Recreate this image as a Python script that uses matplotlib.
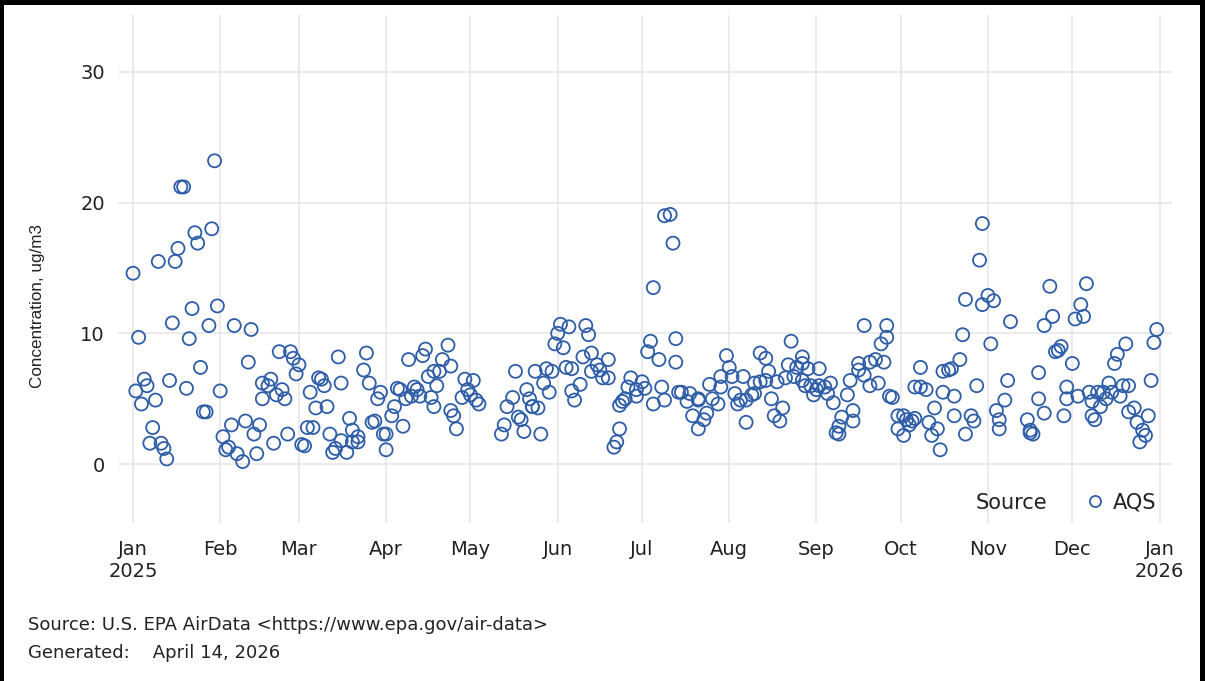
import numpy as np
import matplotlib
matplotlib.use("Agg")
import matplotlib.pyplot as plt
import matplotlib.dates as mdates
from matplotlib.lines import Line2D
from matplotlib.patches import Rectangle

plt.rcParams['font.family'] = ['DejaVu Sans']

# day offsets from 2025-01-01 and daily concentrations (ug/m3)
days = [0, 1, 2, 3, 4, 5, 6, 7, 8, 9, 10, 11, 12, 13, 14, 15, 16, 17, 18, 19,
        20, 21, 22, 23, 24, 25, 26, 27, 28, 29, 30, 31, 32, 33, 34, 35, 36, 37, 39, 40,
        41, 42, 43, 44, 45, 46, 46, 48, 49, 50, 51, 52, 53, 54, 55, 56, 57, 58, 59, 60,
        61, 62, 63, 64, 65, 66, 67, 68, 69, 70, 71, 72, 73, 74, 74, 76, 77, 78, 78, 80,
        80, 82, 83, 84, 85, 86, 87, 88, 89, 90, 90, 92, 93, 94, 95, 96, 97, 98, 99, 100,
        101, 102, 103, 104, 105, 106, 107, 107, 108, 109, 110, 112, 113, 113, 114, 115, 117, 118, 119, 120,
        121, 122, 123, 131, 132, 133, 135, 136, 137, 138, 139, 140, 141, 142, 142, 143, 144, 145, 146, 147,
        148, 149, 150, 151, 152, 153, 154, 155, 156, 156, 157, 159, 160, 161, 162, 163, 163, 165, 166, 167,
        169, 169, 171, 172, 173, 173, 174, 175, 176, 177, 179, 179, 181, 182, 183, 184, 185, 185, 187, 188,
        189, 189, 191, 192, 193, 193, 194, 195, 197, 198, 199, 201, 201, 201, 203, 204, 205, 206, 208, 209,
        209, 211, 212, 213, 214, 215, 216, 217, 218, 218, 220, 221, 221, 223, 223, 225, 225, 226, 227, 228,
        229, 230, 231, 232, 233, 234, 235, 236, 238, 238, 238, 239, 240, 241, 242, 243, 244, 244, 246, 247,
        248, 249, 250, 251, 251, 252, 254, 255, 256, 256, 258, 258, 260, 260, 262, 262, 264, 265, 266, 267,
        268, 268, 269, 270, 272, 272, 274, 274, 275, 276, 277, 278, 278, 280, 280, 282, 283, 284, 285, 286,
        287, 288, 288, 290, 291, 292, 292, 294, 295, 296, 296, 298, 299, 300, 301, 302, 302, 304, 305, 306,
        307, 308, 308, 310, 311, 312, 318, 319, 319, 320, 322, 322, 324, 324, 326, 327, 328, 329, 330, 331,
        332, 332, 334, 335, 336, 337, 338, 339, 340, 341, 341, 342, 343, 344, 345, 346, 347, 348, 349, 350,
        351, 352, 353, 354, 354, 356, 357, 358, 359, 360, 361, 362, 363, 364]
conc = [14.6, 5.6, 9.7, 4.6, 6.5, 6.0, 1.6, 2.8, 4.9, 15.5, 1.6, 1.2, 0.4, 6.4, 10.8, 15.5, 16.5, 21.2, 21.2, 5.8,
        9.6, 11.9, 17.7, 16.9, 7.4, 4.0, 4.0, 10.6, 18.0, 23.2, 12.1, 5.6, 2.1, 1.1, 1.3, 3.0, 10.6, 0.8, 0.2, 3.3,
        7.8, 10.3, 2.3, 0.8, 3.0, 6.2, 5.0, 6.0, 6.5, 1.6, 5.3, 8.6, 5.7, 5.0, 2.3, 8.6, 8.1, 6.9, 7.6, 1.5,
        1.4, 2.8, 5.5, 2.8, 4.3, 6.6, 6.5, 6.0, 4.4, 2.3, 0.9, 1.2, 8.2, 6.2, 1.8, 0.9, 3.5, 1.7, 2.6, 1.7,
        2.1, 7.2, 8.5, 6.2, 3.2, 3.3, 5.0, 5.5, 2.3, 2.3, 1.1, 3.7, 4.4, 5.8, 5.7, 2.9, 5.0, 8.0, 5.2, 5.9,
        5.7, 5.2, 8.3, 8.8, 6.7, 5.1, 4.4, 7.1, 6.0, 7.1, 8.0, 9.1, 7.5, 4.1, 3.7, 2.7, 5.1, 6.5, 5.7, 5.3,
        6.4, 4.9, 4.6, 2.3, 3.0, 4.4, 5.1, 7.1, 3.6, 3.4, 2.5, 5.7, 5.0, 4.4, 4.4, 7.1, 4.3, 2.3, 6.2, 7.3,
        5.5, 7.1, 9.2, 10.0, 10.7, 8.9, 7.4, 10.5, 7.3, 5.6, 4.9, 6.1, 8.2, 10.6, 9.9, 8.5, 7.1, 7.6, 7.2, 6.6,
        8.0, 6.6, 1.3, 1.7, 2.7, 4.5, 4.8, 5.0, 5.9, 6.6, 5.7, 5.2, 6.3, 5.8, 8.6, 9.4, 13.5, 4.6, 8.0, 5.9,
        4.9, 19.0, 19.1, 16.9, 9.6, 7.8, 5.5, 5.5, 4.8, 5.4, 3.7, 5.0, 4.9, 2.7, 3.4, 3.9, 6.1, 5.0, 4.6, 5.9,
        6.7, 8.3, 7.4, 6.7, 5.4, 4.6, 4.9, 6.7, 4.9, 3.2, 5.3, 5.4, 6.2, 8.5, 6.3, 8.1, 6.4, 7.1, 5.0, 3.7,
        6.3, 3.3, 4.3, 6.6, 7.6, 9.4, 6.7, 7.4, 8.2, 6.4, 7.7, 6.0, 7.3, 6.0, 5.3, 5.7, 7.3, 6.0, 5.9, 5.4,
        6.2, 4.7, 2.4, 2.3, 2.9, 3.6, 5.3, 6.4, 3.3, 4.1, 7.2, 7.7, 6.8, 10.6, 7.8, 6.0, 8.0, 6.2, 9.2, 7.8,
        9.7, 10.6, 5.2, 5.1, 2.7, 3.7, 3.7, 2.2, 3.4, 3.0, 3.3, 3.5, 5.9, 7.4, 5.9, 5.7, 3.2, 2.2, 4.3, 2.7,
        1.1, 5.5, 7.1, 7.2, 7.3, 3.7, 5.2, 8.0, 9.9, 12.6, 2.3, 3.7, 3.3, 6.0, 15.6, 18.4, 12.2, 12.9, 9.2, 12.5,
        4.1, 2.7, 3.4, 4.9, 6.4, 10.9, 3.4, 2.6, 2.4, 2.3, 7.0, 5.0, 3.9, 10.6, 13.6, 11.3, 8.6, 8.7, 9.0, 3.7,
        5.9, 5.0, 7.7, 11.1, 5.2, 12.2, 11.3, 13.8, 5.5, 4.8, 3.7, 3.4, 5.5, 4.4, 5.5, 5.0, 6.2, 5.5, 7.7, 8.4,
        5.2, 6.0, 9.2, 6.0, 4.0, 4.3, 3.2, 1.7, 2.6, 2.2, 3.7, 6.4, 9.3, 10.3]

month_labels = ['Jan\n2025', 'Feb', 'Mar', 'Apr', 'May', 'Jun', 'Jul',
                'Aug', 'Sep', 'Oct', 'Nov', 'Dec', 'Jan\n2026']
y_ticks = [0, 10, 20, 30]

start = np.datetime64('2025-01-01')
dates = start + np.array(days).astype('timedelta64[D]')
month_starts = np.arange('2025-01', '2026-02', dtype='datetime64[M]').astype('datetime64[D]')

blue = '#2E5DA8'
txt = '#222222'

fig = plt.figure(figsize=(12.05, 6.81), dpi=100)
ax = fig.add_axes([0.098, 0.232, 0.875, 0.746])

ax.scatter(dates, conc, s=88, facecolors='none', edgecolors=blue, linewidths=1.3, zorder=3)

t0 = mdates.date2num(start)
ax.set_xlim(t0 - 5.3, t0 + 369.6)
ax.set_ylim(-4.5, 34.35)
ax.set_xticks(month_starts)
ax.set_xticklabels(month_labels, linespacing=1.15)
ax.set_yticks(y_ticks)
ax.grid(True, color='#E8E8E8', linewidth=1.2, zorder=0)
ax.set_axisbelow(True)
for s in ax.spines.values():
    s.set_visible(False)
ax.tick_params(length=0, labelsize=14, colors=txt)
ax.tick_params(axis='x', pad=12.5)
ax.tick_params(axis='y', pad=9.5)

fig.text(38 / 1205, 1 - 306 / 681, 'Concentration, ug/m3', rotation=90,
         ha='center', va='center', fontsize=12.3, color=txt,
         family=['Liberation Sans', 'DejaVu Sans'])

# legend
ax.text(0.881, 0.04, 'Source', transform=ax.transAxes, ha='right', va='center',
        fontsize=15, color=txt)
h = Line2D([], [], marker='o', linestyle='none', markerfacecolor='none',
           markeredgecolor=blue, markersize=8, markeredgewidth=1.3)
ax.legend([h], ['AQS'], loc='center right', bbox_to_anchor=(0.993, 0.04),
          frameon=False, fontsize=15, handletextpad=0.3, borderaxespad=0.0,
          labelcolor=txt, handlelength=1.2)

fig.text(28 / 1205, 1 - 625 / 681, 'Source: U.S. EPA AirData <https://www.epa.gov/air-data>',
         ha='left', va='center', fontsize=13, color=txt)
fig.text(28 / 1205, 1 - 653 / 681, 'Generated:    April 14, 2026',
         ha='left', va='center', fontsize=13, color=txt)

# black frame of the screenshot
fig.patches.append(Rectangle((0, 0.993), 1, 0.007, transform=fig.transFigure,
                             facecolor='black', edgecolor='none'))
fig.patches.append(Rectangle((0, 0), 0.003, 1, transform=fig.transFigure,
                             facecolor='black', edgecolor='none'))
fig.patches.append(Rectangle((0.996, 0), 0.004, 1, transform=fig.transFigure,
                             facecolor='black', edgecolor='none'))

fig.savefig('out.png', dpi=100)
